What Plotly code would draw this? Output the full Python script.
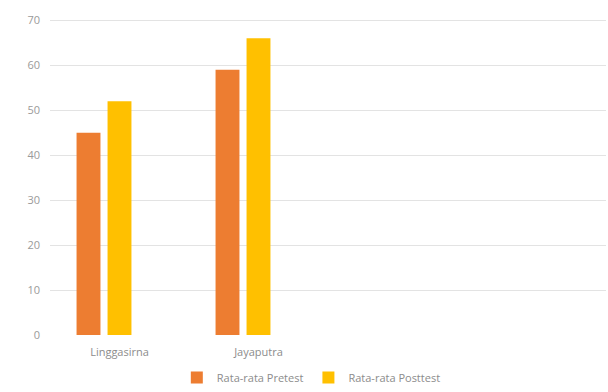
import plotly.graph_objects as go

categories = ["Linggasirna", "Jayaputra"]
pretest = [45, 59]
posttest = [52, 66]
series_names = ["Rata-rata Pretest", "Rata-rata Posttest"]
colors = ["#ED7D31", "#FFC000"]
y_ticks = [0, 10, 20, 30, 40, 50, 60, 70]

bar_w = 0.172
offsets = [-0.309, -0.086]

fig = go.Figure()
for vals, name, col, off in zip([pretest, posttest], series_names, colors, offsets):
    fig.add_trace(go.Bar(
        x=categories, y=vals, name=name,
        marker=dict(color=col, line=dict(width=0)),
        width=bar_w, offset=off,
    ))

fig.update_layout(
    width=608, height=392,
    margin=dict(l=50, r=2, t=19, b=57, autoexpand=False),
    paper_bgcolor="white", plot_bgcolor="white",
    barmode="overlay",
    font=dict(family="Open Sans, sans-serif", size=11, color="#8c8c8c"),
    showlegend=True,
    legend=dict(orientation="h", x=0.47, xanchor="center",
                yref="container", y=-0.005, yanchor="bottom",
                font=dict(size=11, color="#8c8c8c"), itemwidth=30,
                traceorder="normal"),
    xaxis=dict(type="category", range=[-0.5, 3.5], showgrid=False, showline=False,
               ticks="", zeroline=False, ticklabelstandoff=9,
               tickfont=dict(size=11, color="#8c8c8c")),
    yaxis=dict(range=[0, 70.3], tickvals=y_ticks, showgrid=True, gridcolor="#e3e3e3",
               gridwidth=1, zeroline=False, showline=False, ticks="",
               ticklabelstandoff=9, tickfont=dict(size=11, color="#9a9a9a")),
)

fig.write_html("out.html")
